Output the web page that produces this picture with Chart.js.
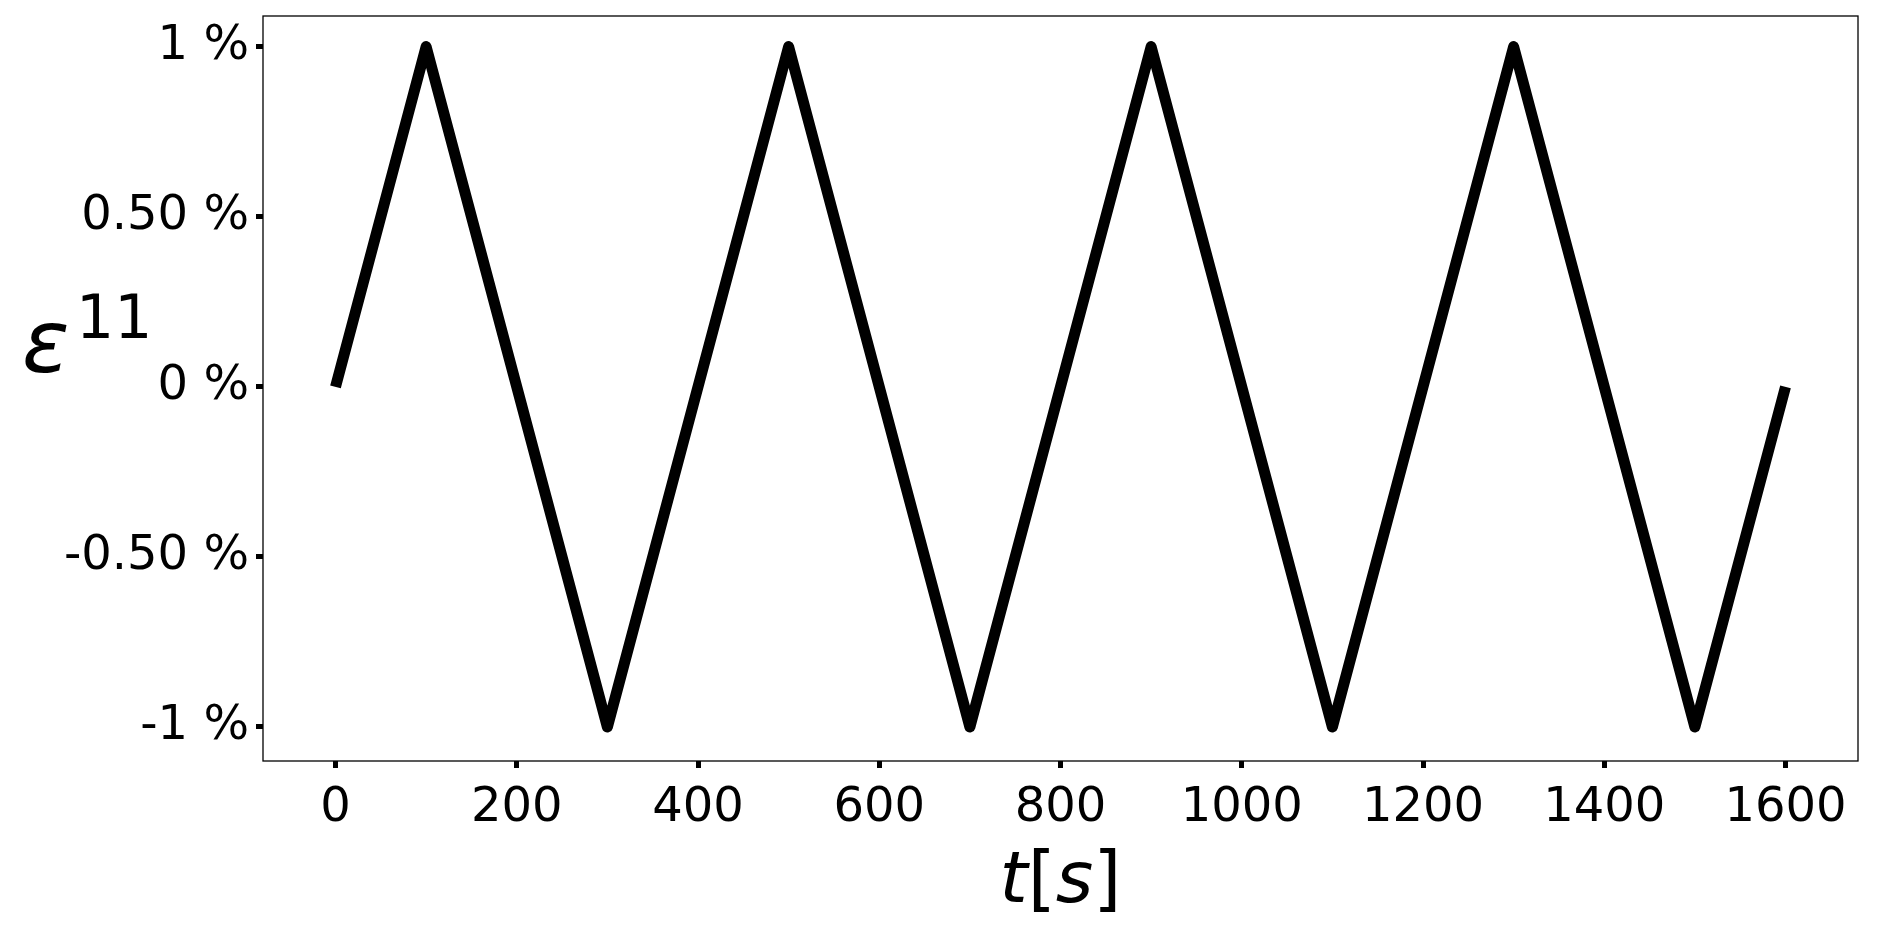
<!DOCTYPE html>
<html>
<head>
<meta charset="utf-8">
<script src="https://cdn.jsdelivr.net/npm/chart.js@4.4.0/dist/chart.umd.min.js"></script>
<style>
  html, body { margin: 0; padding: 0; background: #fff; }
  canvas { display: block; }
</style>
</head>
<body>
<canvas id="readings" width="1880" height="935"></canvas>
<script>
const ctx = 'readings';

// time [s] and strain [%] at the turning points of the load cycle
const time = [0, 100, 300, 500, 700, 900, 1100, 1300, 1500, 1600];
const strain = [0, 1, -1, 1, -1, 1, -1, 1, -1, 0];

const xTicks = [0, 200, 400, 600, 800, 1000, 1200, 1400, 1600];
const yTicks = [-1, -0.5, 0, 0.5, 1];
const yTickLabels = ['-1 %', '-0.50 %', '0 %', '0.50 %', '1 %'];

const tickFont = { family: 'DejaVu Sans', size: 48 };

// frame round the plot and the two axis labels (math style text)
const decorations = {
    id: 'decorations',
    afterDraw(chart) {
        const c = chart.ctx;
        const a = chart.chartArea;
        c.save();
        c.strokeStyle = '#000';
        c.lineWidth = 1.3;
        c.strokeRect(a.left, a.top, a.right - a.left, a.bottom - a.top);

        c.fillStyle = '#000';
        c.textBaseline = 'alphabetic';
        c.textAlign = 'left';

        // x label: t[s]
        const parts = [
            ['t', 'italic 72px "DejaVu Sans"'],
            ['[', '72px "DejaVu Sans"'],
            ['s', 'italic 72px "DejaVu Sans"'],
            [']', '72px "DejaVu Sans"']
        ];
        let total = 0;
        parts.forEach(p => { c.font = p[1]; total += c.measureText(p[0]).width; });
        let x = (a.left + a.right) / 2 - total / 2;
        parts.forEach(p => {
            c.font = p[1];
            c.fillText(p[0], x, 902);
            x += c.measureText(p[0]).width;
        });

        // y label: epsilon^11, written horizontally
        c.font = 'italic 88px "DejaVu Sans"';
        c.fillText('\u03b5', 22, 372);
        c.font = '60px "DejaVu Sans"';
        c.fillText('11', 76, 338);
        c.restore();
    }
};

let chart = new Chart(ctx, {
    type: 'line',
    data: {
        datasets: [{
            label: 'strain',
            data: time.map((t, i) => ({ x: t, y: strain[i] })),
            borderColor: '#000',
            backgroundColor: 'rgba(0,0,0,0)',
            borderWidth: 11,
            borderJoinStyle: 'round',
            borderCapStyle: 'butt',
            pointRadius: 0,
            tension: 0
        }]
    },
    options: {
        responsive: false,
        animation: false,
        devicePixelRatio: 1,
        layout: { padding: { top: 16, right: 22, left: 0, bottom: 0 } },
        plugins: {
            legend: { display: false },
            tooltip: { enabled: false }
        },
        scales: {
            x: {
                type: 'linear',
                min: -80,
                max: 1680,
                afterBuildTicks: (scale) => { scale.ticks = xTicks.map(v => ({ value: v })); },
                afterFit: (scale) => {
                    scale.height = 174;
                    scale.paddingLeft = 0;
                    scale.paddingRight = 0;
                },
                border: { display: false },
                grid: {
                    drawOnChartArea: false,
                    color: '#000',
                    tickColor: '#000',
                    tickLength: 7,
                    tickWidth: 5
                },
                ticks: {
                    color: '#000',
                    font: tickFont,
                    padding: 12,
                    maxRotation: 0,
                    autoSkip: false,
                    callback: (v) => String(v)
                }
            },
            y: {
                type: 'linear',
                min: -1.1,
                max: 1.09,
                afterBuildTicks: (scale) => { scale.ticks = yTicks.map(v => ({ value: v })); },
                afterFit: (scale) => {
                    scale.width = 263;
                    scale.paddingTop = 0;
                    scale.paddingBottom = 0;
                },
                border: { display: false },
                grid: {
                    drawOnChartArea: false,
                    color: '#000',
                    tickColor: '#000',
                    tickLength: 7,
                    tickWidth: 5
                },
                ticks: {
                    color: '#000',
                    font: tickFont,
                    padding: 7,
                    autoSkip: false,
                    callback: (v) => {
                        const i = yTicks.indexOf(v);
                        return i >= 0 ? yTickLabels[i] : '';
                    }
                }
            }
        }
    },
    plugins: [decorations]
});
</script>
</body>
</html>
